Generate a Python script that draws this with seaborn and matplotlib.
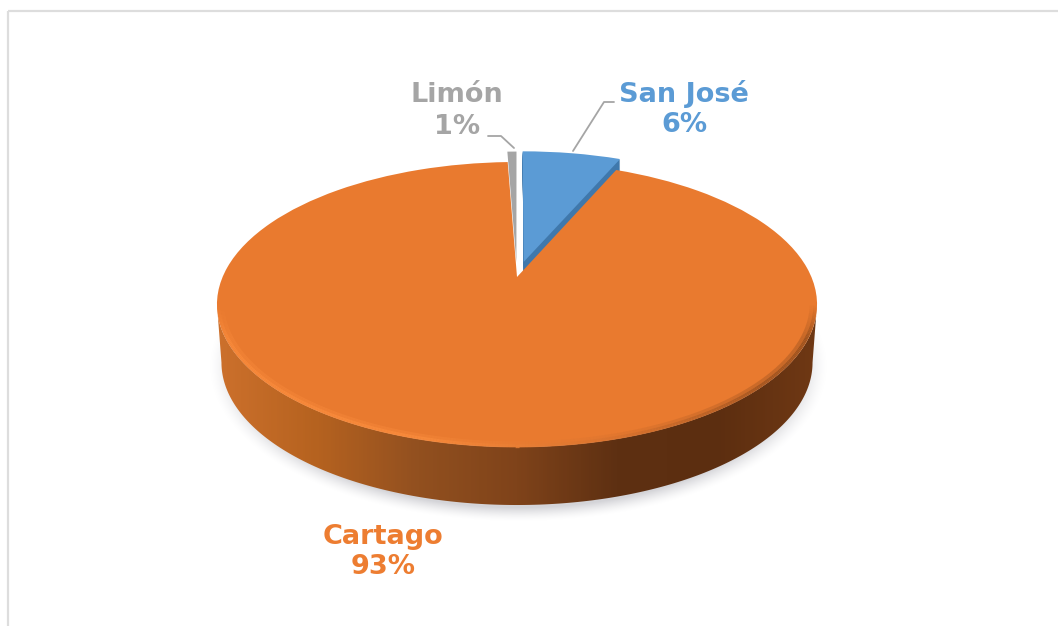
import numpy as np
import matplotlib
matplotlib.use("Agg")
import matplotlib.pyplot as plt
import seaborn as sns
from matplotlib.collections import LineCollection
from matplotlib.colors import to_rgb
from matplotlib.patches import Polygon, Rectangle
from matplotlib.transforms import Transform

# Data (clockwise from 12 o'clock)
provinces = ["San José", "Cartago", "Limón"]
shares = [6.49, 92.91, 0.6]
shown = [6, 93, 1]
explode = [0.115, 0, 0.11]
top_colors = ["#5B9BD5", "#E97A2F", "#A5A5A5"]
label_colors = ["#5B9BD5", "#ED7D31", "#A5A5A5"]

# Pie look: picture pixels for the disc, k is the perspective strength
CX, CY = 517, 277
RX, RY, K = 294.4, 137.2, 0.193
DEPTH = 58

sns.set_theme(style="white")
plt.rcParams["font.family"] = ["DejaVu Sans"]


class Tilt(Transform):
    # unit disc -> tilted disc in picture pixels
    input_dims = output_dims = 2

    def __init__(self, dy=0.0, scale=1.0):
        super().__init__()
        self.dy = dy
        self.scale = scale

    def transform_non_affine(self, values):
        values = np.asarray(values, dtype=float)
        w = 1 + K * values[:, 1]
        x = CX + self.scale * RX * values[:, 0] / w
        y = CY + self.dy - RY * values[:, 1] / w
        return np.column_stack([x, y])


fig = plt.figure(figsize=(10.58, 6.26), dpi=100)
ax = fig.add_axes([0, 0, 1, 1])


def draw_pie(colors, dy=0.0):
    # always the whole pie so the angles stay right, hidden parts are "none"
    ax.pie(shares, explode=explode, startangle=90, counterclock=False, colors=colors,
           wedgeprops={"linewidth": 0, "transform": Tilt(dy) + ax.transData})


# soft shadow under the disc
gx, gy = np.meshgrid(np.arange(190, 850), np.arange(300, 540))
dist = np.sqrt(((gx - 518) / 309) ** 2 + ((gy - 366) / 155) ** 2)
shadow = np.zeros(gx.shape + (4,))
shadow[..., :3] = to_rgb("#D4D4D8")
shadow[..., 3] = np.clip((1.0 - dist) / 0.09, 0, 1) ** 1.5
ax.imshow(shadow, extent=(190, 850, 540, 300), aspect="auto", zorder=1)

# side wall of the big slice, shaded from left to right
edge = np.arcsin(K)
t_front = np.linspace(np.pi + edge, 2 * np.pi - edge, 200)
rim = np.column_stack([np.cos(t_front), np.sin(t_front)])
wall = np.vstack([Tilt().transform(rim), Tilt(DEPTH, 0.985).transform(rim)[::-1]])
wall_patch = Polygon(wall, closed=True, facecolor="none", edgecolor="none")
ax.add_patch(wall_patch)
wall_cmap = sns.blend_palette(["#CC702C", "#B5621F", "#92501F", "#7F431A", "#5E3012",
                               "#5C2E10", "#6F3814"], as_cmap=True)
img = ax.imshow(np.linspace(0, 1, 300)[None, :], cmap=wall_cmap, aspect="auto",
                extent=(217, 817, 510, 300), zorder=2)
img.set_clip_path(wall_patch)

# cut face of San José, then the top faces
for dy in np.arange(14, 0, -1):
    draw_pie(["#3F78AC", "none", "none"], dy=float(dy))
draw_pie(top_colors)
for w in ax.patches:
    w.set_zorder(3)
wall_patch.set_zorder(0)

# bevel on the rim of the big slice, fades out at both ends
t_bevel = np.linspace(np.pi + edge, 2 * np.pi - edge, 300)
bevel_cmap = sns.blend_palette(["#F98B3C", "#F98B3C", "#F98B3C", "#D9732E", "#9C5220", "#8A4A1C"],
                               as_cmap=True)
for scale, lw, alpha in [(0.994, 2.4, 0.85), (0.983, 3.0, 0.4)]:
    pts = Tilt().transform(scale * np.column_stack([np.cos(t_bevel), np.sin(t_bevel)]))
    segs = np.stack([pts[:-1], pts[1:]], axis=1)
    rgba = bevel_cmap(np.linspace(0, 1, len(segs)))
    rgba[:, 3] = alpha * np.clip(np.minimum(np.arange(len(segs)), np.arange(len(segs))[::-1]) / 25, 0, 1)
    ax.add_collection(LineCollection(segs, colors=rgba, linewidths=lw, zorder=4))

# labels and leader lines
ax.plot([573, 604, 614], [151, 102, 102], color="#A5A5A5", lw=1.3, zorder=5)
ax.plot([488, 501, 514], [136, 136, 148], color="#A5A5A5", lw=1.3, zorder=5)
label_pos = [(684, 109), (383, 552), (457, 111)]
for name, pct, col, (lx, ly) in zip(provinces, shown, label_colors, label_pos):
    ax.text(lx, ly, f"{name}\n{pct}%", color=col, fontsize=19.5, fontweight="bold",
            ha="center", va="center", linespacing=1.25, zorder=6)

# chart area border
ax.add_patch(Rectangle((8, 11), 1060, 640, facecolor="none", edgecolor="#DDDDDD",
                       linewidth=1.6, zorder=7))

ax.set_aspect("auto")
ax.set_xlim(0, 1058)
ax.set_ylim(626, 0)
ax.axis("off")
fig.savefig("out.png", dpi=100)
